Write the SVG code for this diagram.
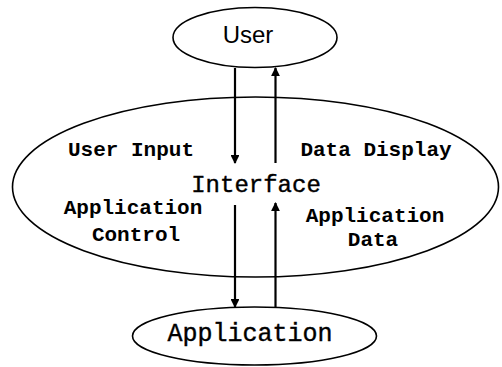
<svg xmlns="http://www.w3.org/2000/svg" width="502" height="367" viewBox="0 0 502 367">
<style>
.node{fill:#fff;stroke:#000;stroke-width:1.6}
.lbl{font-family:"Liberation Mono","DejaVu Sans Mono",monospace;font-weight:bold;fill:#000;text-anchor:middle}
.big{font-family:"Liberation Mono","DejaVu Sans Mono",monospace;font-weight:normal;fill:#000;text-anchor:middle;stroke:#000;stroke-width:0.4}
.conn{stroke:#000;stroke-width:2.2;fill:none}
</style>
<defs>
<marker id="ah" viewBox="0 0 10 10" refX="9" refY="5" markerWidth="4" markerHeight="4" orient="auto" markerUnits="strokeWidth">
<path d="M0,0 L10,5 L0,10 z" fill="#000"/>
</marker>
</defs>
<rect width="502" height="367" fill="#fff"/>
<g id="interface">
<ellipse class="node" cx="255.5" cy="187" rx="243" ry="90"/>
<text class="big" x="256" y="192" font-size="24">Interface</text>
<text class="lbl" x="131" y="156" font-size="21">User Input</text>
<text class="lbl" x="376" y="156" font-size="21">Data Display</text>
<text class="lbl" x="133" y="214" font-size="21">Application</text>
<text class="lbl" x="136" y="241" font-size="21">Control</text>
<text class="lbl" x="375" y="222" font-size="21">Application</text>
<text class="lbl" x="373" y="246" font-size="21">Data</text>
</g>
<g id="user">
<ellipse class="node" cx="255" cy="37.5" rx="82" ry="30"/>
<text x="248" y="43" font-family="Liberation Sans, Arial, sans-serif" font-size="24" text-anchor="middle">User</text>
</g>
<g id="application">
<ellipse class="node" cx="254.5" cy="336" rx="122" ry="29"/>
<text class="big" x="250" y="341" font-size="25">Application</text>
</g>
<g id="connectors">
<line class="conn" x1="235" y1="68" x2="235" y2="163" marker-end="url(#ah)"/>
<line class="conn" x1="275.5" y1="163" x2="275.5" y2="68" marker-end="url(#ah)"/>
<line class="conn" x1="235" y1="205" x2="235" y2="307" marker-end="url(#ah)"/>
<line class="conn" x1="275.5" y1="307" x2="275.5" y2="203" marker-end="url(#ah)"/>
</g>
</svg>
